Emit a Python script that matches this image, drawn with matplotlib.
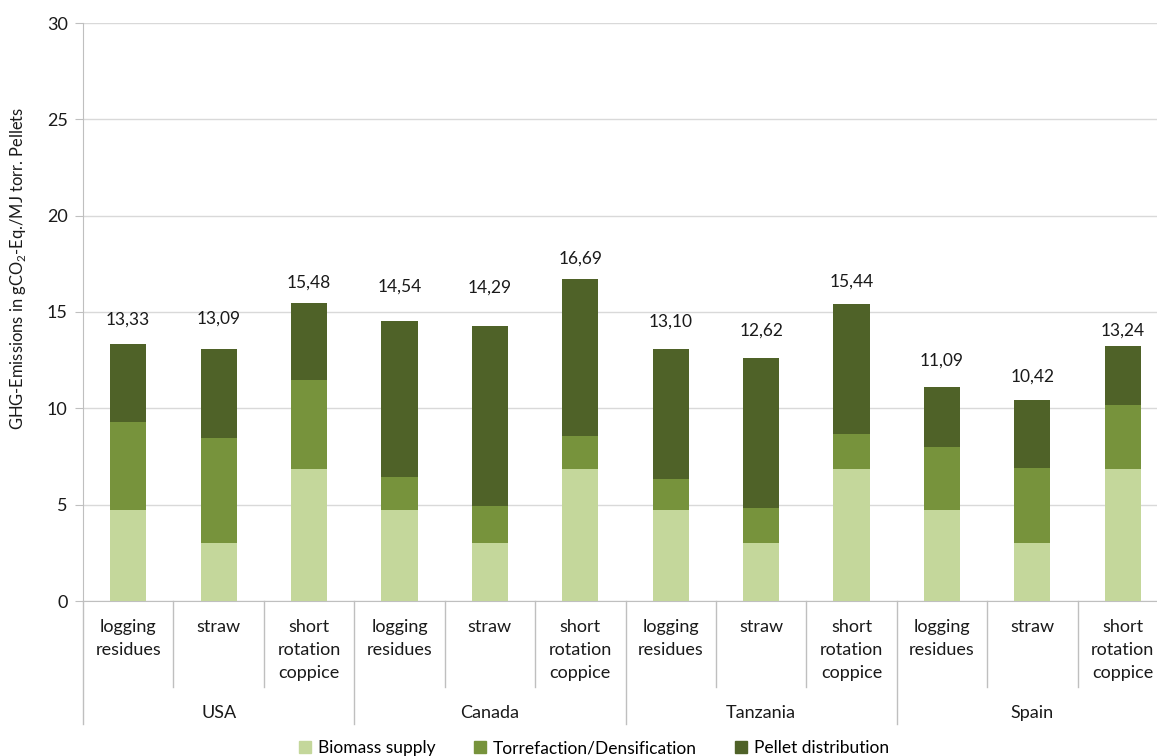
import numpy as np
import matplotlib
matplotlib.use("Agg")
import matplotlib.pyplot as plt
from matplotlib.patches import Patch

plt.rcParams['font.family'] = ['Lato', 'DejaVu Sans']
plt.rcParams['mathtext.fontset'] = 'custom'
plt.rcParams['mathtext.rm'] = 'Lato'

# data
countries = ['USA', 'Canada', 'Tanzania', 'Spain']
feedstocks = ['logging\nresidues', 'straw', 'short\nrotation\ncoppice']
biomass = [4.70, 3.00, 6.84, 4.70, 3.00, 6.84, 4.70, 3.00, 6.84, 4.70, 3.00, 6.84]
torrefaction = [4.59, 5.47, 4.61, 1.73, 1.95, 1.73, 1.63, 1.81, 1.82, 3.31, 3.88, 3.32]
pellet = [4.04, 4.62, 4.03, 8.11, 9.34, 8.12, 6.77, 7.81, 6.78, 3.08, 3.54, 3.08]
series_names = ['Biomass supply', 'Torrefaction/Densification', 'Pellet distribution']
colors = ['#C4D79B', '#77933C', '#4F6228']
# how far each total label sits above its bar (as in the original)
label_lift = [1.29, 1.57, 1.04, 1.79, 2.0, 1.06, 1.42, 1.40, 1.16, 1.41, 1.22, 0.78]

fig = plt.figure(figsize=(11.57, 7.56), dpi=100)
ax = fig.add_axes([83 / 1157, 155 / 756, 1085 / 1157, 578 / 756])

x = np.arange(len(biomass))
b = np.array(biomass)
t = np.array(torrefaction)
p = np.array(pellet)
ax.bar(x, b, 0.4, color=colors[0], zorder=3)
ax.bar(x, t, 0.4, bottom=b, color=colors[1], zorder=3)
ax.bar(x, p, 0.4, bottom=b + t, color=colors[2], zorder=3)

totals = b + t + p
for xi, tot, lift in zip(x, totals, label_lift):
    ax.text(xi, tot + lift, f'{tot:.2f}'.replace('.', ','), ha='center', va='center',
            fontsize=12.5, color='#1a1a1a')

ax.set_xlim(-0.5, len(x) - 0.5)
ax.set_ylim(0, 30)
ax.set_yticks(range(0, 31, 5))
ax.tick_params(axis='y', labelsize=13, length=6, color='#BFBFBF', pad=5, labelcolor='#1a1a1a')
ax.set_xticks([])
ax.grid(axis='y', color='#D9D9D9', lw=1, zorder=0)
for s in ['top', 'right']:
    ax.spines[s].set_visible(False)
ax.spines['left'].set_color('#BFBFBF')
ax.spines['bottom'].set_color('#BFBFBF')
# y title sits above the axis centre in the original
fig.text(18 / 1157, 1 - 268 / 756, 'GHG-Emissions in gCO$_2$-Eq./MJ torr. Pellets',
         rotation=90, ha='center', va='center', fontsize=11.9, color='#1a1a1a')

# multi-level category axis
tr = ax.get_xaxis_transform()
for i in range(len(x) + 1):
    low = -0.213 if i % 3 == 0 else -0.149
    ax.plot([i - 0.5, i - 0.5], [0, low], transform=tr, color='#BFBFBF', lw=1, clip_on=False)
for i in range(len(x)):
    ax.text(i, -0.031, feedstocks[i % 3], transform=tr, ha='center', va='top',
            fontsize=13, linespacing=1.55, color='#1a1a1a')
for j, c in enumerate(countries):
    ax.text(3 * j + 1, -0.194, c, transform=tr, ha='center', va='center',
            fontsize=13, color='#1a1a1a')

handles = [Patch(color=c) for c in colors]
fig.legend(handles, series_names, loc='center', bbox_to_anchor=(594 / 1157, 1 - 748 / 756),
           ncol=3, frameon=False, fontsize=12.5, handlelength=0.7, handleheight=0.7,
           handletextpad=0.4, columnspacing=2.2)

fig.savefig('out.png', dpi=100)
